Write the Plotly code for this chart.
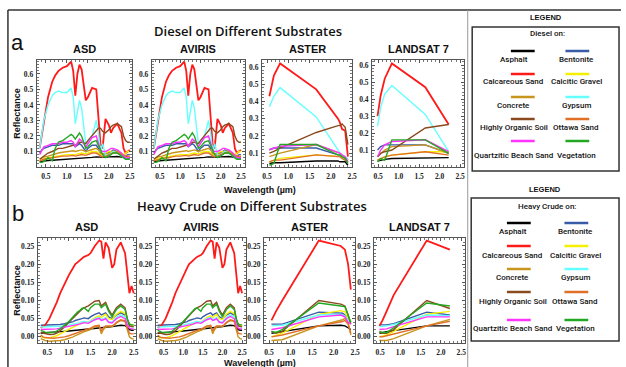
import plotly.graph_objects as go

W, H = 626, 367

# ---------------- data ----------------
materials = ["Asphalt", "Bentonite", "Calcareous Sand", "Calcitic Gravel", "Concrete",
             "Gypsum", "Highly Organic Soil", "Ottawa Sand", "Quartzitic Beach Sand", "Vegetation"]
colors = ["#000000", "#3a5ba8", "#ff1a1a", "#f5f000", "#c8961e",
          "#66ffff", "#8b4a1e", "#e07028", "#ff33ff", "#22a822"]

wl_asd = [0.35, 0.4, 0.45, 0.55, 0.65, 0.72, 0.8, 0.9, 1.0, 1.1, 1.15, 1.2, 1.25, 1.3, 1.35, 1.45,
          1.5, 1.6, 1.7, 1.75, 1.8, 1.85, 1.92, 2.0, 2.05, 2.1, 2.2, 2.3, 2.35, 2.4, 2.45, 2.5]
wl_aster = [0.556, 0.661, 0.807, 1.656, 2.167, 2.209, 2.262, 2.336, 2.40]
wl_landsat = [0.485, 0.56, 0.66, 0.835, 1.65, 2.22]

# Diesel, hyperspectral (ASD / AVIRIS)
d_asd_asphalt = [0.035,0.038,0.04,0.042,0.044,0.045,0.046,0.048,0.05,0.052,0.053,0.052,0.054,0.056,0.057,0.056,0.058,0.062,0.065,0.064,0.062,0.061,0.062,0.065,0.066,0.068,0.068,0.064,0.06,0.058,0.057,0.056]
d_asd_bentonite = [0.09,0.11,0.12,0.13,0.14,0.14,0.14,0.15,0.15,0.15,0.15,0.13,0.14,0.15,0.14,0.10,0.12,0.14,0.14,0.12,0.09,0.08,0.08,0.09,0.10,0.11,0.10,0.08,0.07,0.07,0.08,0.08]
d_asd_calcsand = [0.12,0.20,0.30,0.45,0.55,0.59,0.62,0.64,0.65,0.68,0.62,0.46,0.60,0.66,0.63,0.43,0.45,0.51,0.50,0.33,0.15,0.12,0.31,0.27,0.22,0.25,0.28,0.22,0.12,0.09,0.10,0.11]
d_asd_gravel = [0.04,0.05,0.055,0.06,0.065,0.07,0.07,0.075,0.08,0.08,0.08,0.08,0.085,0.09,0.09,0.085,0.09,0.10,0.10,0.09,0.08,0.08,0.09,0.10,0.10,0.10,0.10,0.09,0.08,0.09,0.10,0.10]
d_asd_concrete = [0.05,0.06,0.065,0.07,0.08,0.085,0.09,0.095,0.10,0.105,0.105,0.10,0.105,0.11,0.11,0.10,0.105,0.115,0.12,0.11,0.09,0.085,0.085,0.09,0.095,0.10,0.10,0.085,0.075,0.07,0.07,0.07]
d_asd_gypsum = [0.12,0.20,0.30,0.40,0.46,0.48,0.49,0.48,0.48,0.51,0.45,0.28,0.36,0.43,0.38,0.15,0.16,0.20,0.30,0.22,0.10,0.15,0.08,0.08,0.09,0.10,0.09,0.07,0.06,0.05,0.05,0.05]
d_asd_soil = [0.05,0.06,0.07,0.09,0.10,0.11,0.12,0.12,0.13,0.14,0.14,0.14,0.15,0.16,0.16,0.15,0.17,0.20,0.23,0.25,0.25,0.23,0.22,0.24,0.26,0.27,0.28,0.26,0.20,0.17,0.16,0.16]
d_asd_ottawa = [0.04,0.045,0.05,0.055,0.06,0.06,0.065,0.07,0.07,0.075,0.075,0.07,0.075,0.08,0.08,0.075,0.08,0.09,0.09,0.08,0.07,0.065,0.07,0.08,0.085,0.09,0.09,0.08,0.07,0.07,0.065,0.065]
d_asd_quartz = [0.08,0.11,0.13,0.14,0.15,0.15,0.15,0.16,0.16,0.17,0.16,0.13,0.16,0.18,0.17,0.13,0.15,0.19,0.20,0.16,0.11,0.10,0.10,0.11,0.12,0.12,0.11,0.09,0.07,0.06,0.06,0.06]
d_asd_veg = [0.03,0.03,0.035,0.06,0.04,0.12,0.16,0.17,0.19,0.21,0.20,0.18,0.20,0.22,0.20,0.12,0.13,0.16,0.17,0.14,0.10,0.08,0.06,0.07,0.08,0.09,0.09,0.07,0.06,0.05,0.05,0.05]

# Diesel, ASTER bands
d_aster_asphalt = [0.04,0.045,0.045,0.055,0.055,0.05,0.05,0.05,0.03]
d_aster_bentonite = [0.12,0.13,0.13,0.13,0.09,0.09,0.08,0.08,0.06]
d_aster_calcsand = [0.43,0.55,0.62,0.47,0.30,0.28,0.24,0.23,0.08]
d_aster_gravel = [0.05,0.06,0.07,0.09,0.08,0.08,0.08,0.07,0.06]
d_aster_concrete = [0.08,0.09,0.10,0.15,0.10,0.10,0.09,0.07,0.05]
d_aster_gypsum = [0.37,0.43,0.48,0.31,0.12,0.10,0.09,0.08,0.06]
d_aster_soil = [0.10,0.11,0.13,0.22,0.26,0.26,0.27,0.25,0.15]
d_aster_ottawa = [0.05,0.06,0.06,0.09,0.08,0.08,0.07,0.06,0.05]
d_aster_quartz = [0.12,0.13,0.14,0.15,0.10,0.10,0.09,0.08,0.05]
d_aster_veg = [0.03,0.04,0.15,0.15,0.09,0.09,0.08,0.07,0.04]

# Diesel, Landsat 7 bands
d_ls_asphalt = [0.035,0.04,0.045,0.05,0.055,0.055]
d_ls_bentonite = [0.10,0.12,0.13,0.13,0.13,0.08]
d_ls_calcsand = [0.30,0.42,0.52,0.61,0.47,0.25]
d_ls_gravel = [0.04,0.05,0.06,0.07,0.09,0.09]
d_ls_concrete = [0.06,0.08,0.10,0.12,0.13,0.08]
d_ls_gypsum = [0.24,0.35,0.43,0.48,0.31,0.09]
d_ls_soil = [0.06,0.08,0.09,0.10,0.23,0.25]
d_ls_ottawa = [0.04,0.05,0.06,0.07,0.09,0.07]
d_ls_quartz = [0.06,0.10,0.13,0.15,0.16,0.09]
d_ls_veg = [0.03,0.05,0.04,0.16,0.16,0.08]

# Heavy crude, hyperspectral (ASD / AVIRIS)
h_asd_asphalt = [0.01,0.01,0.011,0.012,0.013,0.013,0.014,0.015,0.016,0.017,0.018,0.018,0.019,0.02,0.021,0.021,0.022,0.024,0.025,0.024,0.025,0.026,0.027,0.028,0.029,0.03,0.032,0.031,0.025,0.02,0.018,0.018]
h_asd_bentonite = [0.032,0.032,0.032,0.032,0.032,0.033,0.034,0.036,0.038,0.042,0.045,0.046,0.048,0.05,0.052,0.05,0.055,0.062,0.066,0.06,0.063,0.066,0.055,0.05,0.055,0.06,0.066,0.06,0.045,0.035,0.032,0.03]
h_asd_calcsand = [0.025,0.028,0.032,0.05,0.075,0.095,0.12,0.145,0.17,0.19,0.2,0.205,0.21,0.215,0.22,0.225,0.23,0.25,0.265,0.262,0.215,0.26,0.245,0.19,0.2,0.24,0.26,0.23,0.17,0.12,0.14,0.12]
h_asd_gravel = [0.0,-0.002,-0.003,-0.003,0.0,0.003,0.008,0.014,0.02,0.027,0.031,0.034,0.037,0.04,0.042,0.04,0.045,0.053,0.058,0.053,0.058,0.062,0.05,0.048,0.055,0.062,0.07,0.064,0.045,0.035,0.033,0.03]
h_asd_concrete = [-0.005,-0.008,-0.01,-0.012,-0.012,-0.011,-0.01,-0.008,-0.005,0.0,0.003,0.005,0.008,0.011,0.014,0.017,0.02,0.027,0.03,0.008,0.02,0.027,0.028,0.028,0.032,0.038,0.045,0.042,0.02,0.0,-0.005,-0.006]
h_asd_gypsum = [0.027,0.027,0.027,0.027,0.027,0.028,0.029,0.03,0.032,0.035,0.037,0.037,0.039,0.041,0.042,0.04,0.044,0.05,0.054,0.048,0.05,0.053,0.042,0.04,0.047,0.054,0.06,0.055,0.038,0.03,0.028,0.027]
h_asd_soil = [0.012,0.01,0.008,0.006,0.007,0.01,0.017,0.027,0.04,0.053,0.06,0.065,0.07,0.075,0.08,0.085,0.09,0.098,0.1,0.085,0.09,0.095,0.075,0.06,0.07,0.08,0.09,0.08,0.05,0.03,0.028,0.028]
h_asd_ottawa = [0.005,0.0,-0.002,-0.004,-0.004,-0.003,-0.002,0.0,0.003,0.007,0.01,0.012,0.014,0.017,0.019,0.021,0.024,0.03,0.032,0.015,0.025,0.03,0.03,0.03,0.034,0.04,0.047,0.044,0.025,0.01,0.008,0.008]
h_asd_quartz = [0.02,0.02,0.02,0.02,0.021,0.022,0.024,0.026,0.028,0.031,0.033,0.033,0.035,0.037,0.039,0.037,0.041,0.047,0.051,0.045,0.047,0.05,0.04,0.038,0.044,0.05,0.056,0.05,0.033,0.024,0.022,0.022]
h_asd_veg = [0.018,0.015,0.013,0.012,0.012,0.016,0.022,0.032,0.042,0.055,0.062,0.068,0.072,0.078,0.08,0.07,0.08,0.09,0.09,0.08,0.085,0.09,0.07,0.055,0.065,0.075,0.085,0.075,0.05,0.035,0.033,0.033]

# Heavy crude, ASTER bands
h_aster_asphalt = [0.01,0.012,0.015,0.03,0.032,0.032,0.03,0.025,0.02]
h_aster_bentonite = [0.035,0.035,0.035,0.068,0.065,0.065,0.06,0.05,0.04]
h_aster_calcsand = [0.045,0.07,0.10,0.265,0.25,0.245,0.24,0.20,0.13]
h_aster_gravel = [0.0,0.005,0.01,0.062,0.072,0.07,0.07,0.05,0.04]
h_aster_concrete = [-0.01,-0.01,-0.008,0.03,0.045,0.047,0.05,0.04,0.005]
h_aster_gypsum = [0.03,0.03,0.032,0.06,0.062,0.06,0.058,0.045,0.04]
h_aster_soil = [0.015,0.01,0.015,0.10,0.09,0.088,0.085,0.06,0.035]
h_aster_ottawa = [0.0,0.002,0.005,0.03,0.04,0.042,0.045,0.035,0.01]
h_aster_quartz = [0.02,0.022,0.025,0.055,0.06,0.058,0.055,0.04,0.035]
h_aster_veg = [0.015,0.012,0.02,0.093,0.085,0.085,0.083,0.06,0.04]

# Heavy crude, Landsat 7 bands
h_ls_asphalt = [0.01,0.012,0.014,0.017,0.03,0.03]
h_ls_bentonite = [0.033,0.033,0.033,0.036,0.068,0.06]
h_ls_calcsand = [0.03,0.045,0.07,0.115,0.265,0.24]
h_ls_gravel = [0.0,0.002,0.005,0.015,0.062,0.07]
h_ls_concrete = [-0.01,-0.01,-0.01,-0.005,0.03,0.048]
h_ls_gypsum = [0.028,0.028,0.03,0.034,0.06,0.058]
h_ls_soil = [0.012,0.01,0.01,0.02,0.10,0.078]
h_ls_ottawa = [0.0,0.0,0.003,0.008,0.03,0.043]
h_ls_quartz = [0.02,0.02,0.022,0.028,0.055,0.055]
h_ls_veg = [0.015,0.012,0.012,0.025,0.093,0.085]

sensor_names = ["ASD", "AVIRIS", "ASTER", "LANDSAT 7"]
yticks_a = [0.1, 0.2, 0.3, 0.4, 0.5, 0.6]
yticks_b = [0.0, 0.05, 0.10, 0.15, 0.20, 0.25]
xticks = [0.5, 1.0, 1.5, 2.0, 2.5]

d_asd = [d_asd_asphalt, d_asd_bentonite, d_asd_calcsand, d_asd_gravel, d_asd_concrete,
         d_asd_gypsum, d_asd_soil, d_asd_ottawa, d_asd_quartz, d_asd_veg]
d_aster = [d_aster_asphalt, d_aster_bentonite, d_aster_calcsand, d_aster_gravel, d_aster_concrete,
           d_aster_gypsum, d_aster_soil, d_aster_ottawa, d_aster_quartz, d_aster_veg]
d_ls = [d_ls_asphalt, d_ls_bentonite, d_ls_calcsand, d_ls_gravel, d_ls_concrete,
        d_ls_gypsum, d_ls_soil, d_ls_ottawa, d_ls_quartz, d_ls_veg]
h_asd = [h_asd_asphalt, h_asd_bentonite, h_asd_calcsand, h_asd_gravel, h_asd_concrete,
         h_asd_gypsum, h_asd_soil, h_asd_ottawa, h_asd_quartz, h_asd_veg]
h_aster = [h_aster_asphalt, h_aster_bentonite, h_aster_calcsand, h_aster_gravel, h_aster_concrete,
           h_aster_gypsum, h_aster_soil, h_aster_ottawa, h_aster_quartz, h_aster_veg]
h_ls = [h_ls_asphalt, h_ls_bentonite, h_ls_calcsand, h_ls_gravel, h_ls_concrete,
        h_ls_gypsum, h_ls_soil, h_ls_ottawa, h_ls_quartz, h_ls_veg]

for grp, wl in [(d_asd, wl_asd), (h_asd, wl_asd), (d_aster, wl_aster), (h_aster, wl_aster),
                (d_ls, wl_landsat), (h_ls, wl_landsat)]:
    for s in grp:
        if len(s) != len(wl):
            raise ValueError("length mismatch %d vs %d" % (len(s), len(wl)))

# ---------------- layout helpers ----------------
def fx(px):
    return px / W

def fy(py):
    return 1 - py / H

cols_a = [(37, 133), (153, 247), (264, 355), (375, 468)]
cols_b = [(38, 137), (157, 248), (266, 358), (377, 469)]
row_a = (60, 167)
row_b = (238, 343)
xr = [[0.28, 2.55], [0.3, 2.6], [0.38, 2.5], [0.35, 2.6]]
yr_a = [[0.0, 0.69], [0.0, 0.69], [0.02, 0.64], [0.0, 0.63]]
yr_b = [[-0.017, 0.272]] * 4

fig = go.Figure()
TICKFONT = dict(family="Liberation Serif", size=7.5, color="#222", weight="bold")
layout = dict(width=W, height=H, margin=dict(l=0, r=0, t=0, b=0),
              paper_bgcolor="white", plot_bgcolor="white", showlegend=False)

panels = []
for i in range(4):
    panels.append(("a", i, cols_a[i], row_a, xr[i], yr_a[i]))
for i in range(4):
    panels.append(("b", i, cols_b[i], row_b, xr[i], yr_b[i]))

sets = {
    ("a", 0): (wl_asd, d_asd), ("a", 1): (wl_asd, d_asd), ("a", 2): (wl_aster, d_aster), ("a", 3): (wl_landsat, d_ls),
    ("b", 0): (wl_asd, h_asd), ("b", 1): (wl_asd, h_asd), ("b", 2): (wl_aster, h_aster), ("b", 3): (wl_landsat, h_ls),
}

annotations = []
for n, (row, i, (x0, x1), (y0, y1), xrange_, yrange_) in enumerate(panels, start=1):
    xa = "xaxis" if n == 1 else "xaxis%d" % n
    ya = "yaxis" if n == 1 else "yaxis%d" % n
    layout[xa] = dict(domain=[fx(x0), fx(x1)], anchor="y" if n == 1 else "y%d" % n,
                      range=xrange_, tickvals=xticks, ticktext=["%.1f" % v for v in xticks],
                      showline=True, mirror="ticks", linecolor="#555", linewidth=1,
                      ticks="inside", ticklen=3, tickcolor="#555",
                      minor=dict(ticks="inside", ticklen=2, dtick=0.1, tickcolor="#777"),
                      showgrid=False, zeroline=False, tickfont=TICKFONT, ticklabelstandoff=2)
    ticks = yticks_a if row == "a" else yticks_b
    fmt = "%.1f" if row == "a" else "%.2f"
    layout[ya] = dict(domain=[fy(y1), fy(y0)], anchor="x" if n == 1 else "x%d" % n,
                      range=yrange_, tickvals=ticks, ticktext=[fmt % v for v in ticks],
                      showline=True, mirror="ticks", linecolor="#555", linewidth=1,
                      ticks="inside", ticklen=3, tickcolor="#555",
                      minor=dict(ticks="inside", ticklen=2, dtick=0.02 if row == "a" else 0.01, tickcolor="#777"),
                      showgrid=False, zeroline=False, tickfont=TICKFONT, ticklabelstandoff=1)
    wl, series = sets[(row, i)]
    for k in range(len(materials)):
        fig.add_trace(go.Scatter(x=wl, y=series[k], mode="lines",
                                 line=dict(color=colors[k], width=1.8 if k == 2 else 1.4),
                                 name=materials[k],
                                 xaxis="x" if n == 1 else "x%d" % n,
                                 yaxis="y" if n == 1 else "y%d" % n,
                                 hoverinfo="skip"))
    annotations.append(dict(text="<b>%s</b>" % sensor_names[i], x=fx((x0 + x1) / 2), y=fy(y0 - 11),
                            font=dict(family="Liberation Sans", size=11, color="#111")))

TITLE_FONT = dict(family="Open Sans", size=13, color="#111", weight=600)
LAB_FONT = dict(family="Liberation Sans", size=9, color="#111")
annotations += [
    dict(text="Diesel on Different Substrates", x=fx(250), y=fy(31), font=TITLE_FONT),
    dict(text="Heavy Crude on Different Substrates", x=fx(254), y=fy(206), font=TITLE_FONT),
    dict(text="a", x=fx(18), y=fy(42), font=dict(family="Liberation Sans", size=22, color="#111")),
    dict(text="b", x=fx(18), y=fy(214), font=dict(family="Liberation Sans", size=22, color="#111")),
    dict(text="<b>Reflectance</b>", x=fx(17), y=fy(113), textangle=-90, font=LAB_FONT),
    dict(text="<b>Reflectance</b>", x=fx(17), y=fy(290), textangle=-90, font=LAB_FONT),
    dict(text="<b>Wavelength (µm)</b>", x=fx(262), y=fy(190), font=LAB_FONT),
    dict(text="<b>Wavelength (µm)</b>", x=fx(262), y=fy(363), font=LAB_FONT),
]

shapes = []
shapes.append(dict(type="line", xref="paper", yref="paper", x0=fx(8), x1=fx(8), y0=fy(10), y1=fy(367),
                   line=dict(color="#333", width=1.5)))
shapes.append(dict(type="line", xref="paper", yref="paper", x0=fx(8), x1=fx(626), y0=fy(10), y1=fy(10),
                   line=dict(color="#333", width=1.5)))
shapes.append(dict(type="line", xref="paper", yref="paper", x0=fx(471.5), x1=fx(471.5), y0=fy(10), y1=fy(367),
                   line=dict(color="#999", width=1)))

LEG_FONT = dict(family="Roboto", size=8, color="#111", weight=500)
legends = [
    dict(head="Diesel on:", top=27, bottom=171, left=476, right=624, legend_y=17, head_y=33,
         colx=(527, 582), labx=(518, 581), swatch_y=(51, 74, 97, 119, 141), label_y=(60, 82, 105, 127, 155)),
    dict(head="Heavy Crude on:", top=198, bottom=341, left=475, right=624, legend_y=189, head_y=206,
         colx=(523, 581), labx=(517, 580), swatch_y=(223, 246, 269, 292, 320), label_y=(231, 255, 277, 301, 328)),
]
for L in legends:
    shapes.append(dict(type="rect", xref="paper", yref="paper", x0=fx(L["left"]), x1=fx(L["right"]),
                       y0=fy(L["bottom"]), y1=fy(L["top"]), line=dict(color="#333", width=1.5)))
    annotations.append(dict(text="<b>LEGEND</b>", x=fx((L["left"] + L["right"]) / 2), y=fy(L["legend_y"]),
                            font=dict(family="Liberation Sans", size=7.5, color="#111")))
    annotations.append(dict(text=L["head"], x=fx((L["left"] + L["right"]) / 2 + 2), y=fy(L["head_y"]),
                            font=LEG_FONT))
    for k, m in enumerate(materials):
        r, c = divmod(k, 2)
        cx = L["colx"][c]
        sy = L["swatch_y"][r]
        shapes.append(dict(type="line", xref="paper", yref="paper", x0=fx(cx - 12), x1=fx(cx + 12),
                           y0=fy(sy), y1=fy(sy), line=dict(color=colors[k], width=2.5)))
        annotations.append(dict(text=m, x=fx(L["labx"][c]), y=fy(L["label_y"][r]), font=LEG_FONT))

for a in annotations:
    a.setdefault("xref", "paper")
    a.setdefault("yref", "paper")
    a.setdefault("showarrow", False)
    a.setdefault("xanchor", "center")
    a.setdefault("yanchor", "middle")

layout["annotations"] = annotations
layout["shapes"] = shapes
fig.update_layout(**layout)
fig.write_html("out.html")
